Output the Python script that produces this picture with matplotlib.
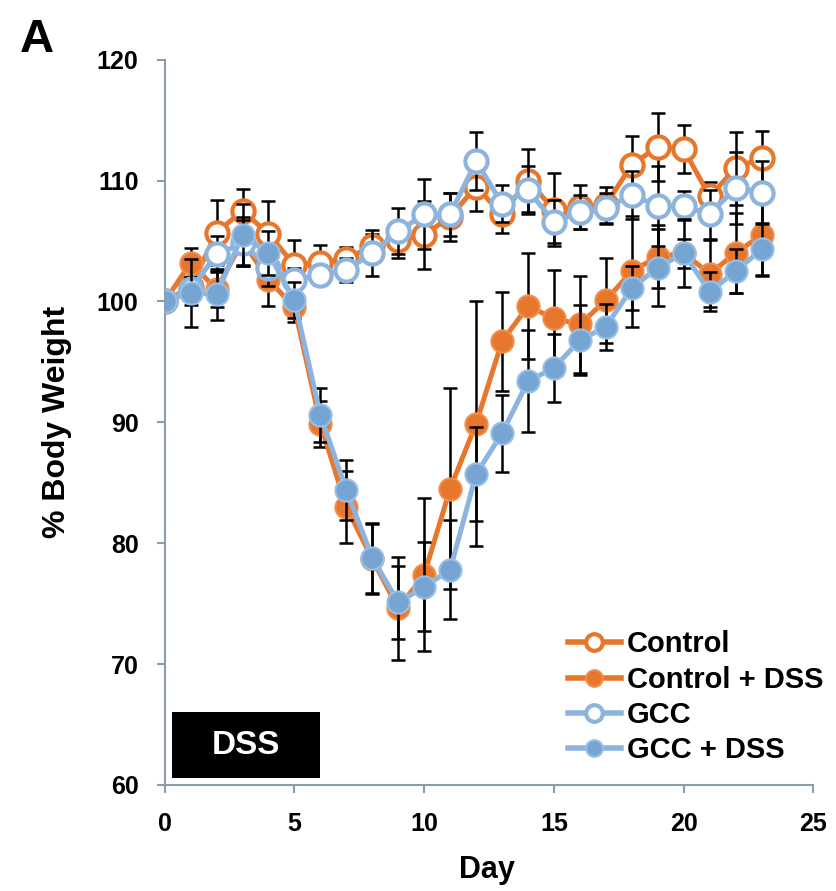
import numpy as np
import matplotlib.pyplot as plt
from matplotlib.patches import Rectangle

# body weight (% of day 0)
days = list(range(24))
control = [100, 101.2, 105.7, 107.5, 105.6, 103.0, 103.2, 103.5, 104.6, 105.1, 105.5, 107.0,
           109.5, 107.2, 110.0, 107.6, 107.8, 108.0, 111.3, 112.8, 112.6, 108.7, 111.0, 111.9]
control_err = [0, 1.5, 2.7, 1.8, 2.7, 2.1, 1.5, 1.0, 1.0, 1.5, 2.8, 2.0,
               2.0, 1.5, 2.6, 3.0, 1.8, 1.5, 2.4, 2.8, 2.0, 1.2, 3.0, 2.2]
control_dss = [100, 103.2, 101.0, 105.0, 101.8, 99.5, 89.9, 83.0, 78.7, 74.6, 77.4, 84.5,
               89.9, 96.7, 99.6, 98.6, 98.1, 100.1, 102.5, 103.7, 104.0, 102.3, 104.0, 105.5]
control_dss_err = [0, 1.2, 1.5, 2.0, 2.2, 1.2, 1.9, 3.0, 2.9, 4.3, 6.3, 8.3,
                   10.1, 4.1, 4.4, 4.0, 4.0, 3.5, 4.6, 2.6, 1.2, 2.8, 3.3, 3.3]
gcc = [100, 101.0, 103.9, 104.8, 102.8, 101.8, 102.2, 102.6, 104.0, 105.8, 107.2, 107.2,
       111.6, 108.1, 109.2, 106.6, 107.4, 107.7, 108.8, 107.9, 107.9, 107.2, 109.4, 109.0]
gcc_err = [0, 1.0, 1.5, 1.9, 1.5, 1.0, 0.8, 1.0, 1.9, 1.9, 2.9, 1.8,
           2.4, 1.5, 2.0, 1.8, 1.4, 1.3, 2.0, 3.3, 1.2, 2.0, 3.0, 2.6]
gcc_dss = [100, 100.7, 100.6, 105.5, 104.0, 100.1, 90.6, 84.4, 78.8, 75.1, 76.4, 77.8,
           85.7, 89.1, 93.4, 94.5, 96.8, 97.9, 101.1, 102.8, 104.0, 100.8, 102.5, 104.3]
gcc_dss_err = [0, 2.8, 2.1, 2.6, 1.8, 1.5, 2.2, 2.5, 2.9, 3.0, 3.7, 4.1,
               3.9, 3.2, 4.2, 2.8, 2.9, 1.9, 1.8, 3.2, 2.8, 1.6, 1.8, 2.2]

ORANGE = "#E8772E"
BLUE = "#8DB4DC"
BLUE_FILL = "#76A5D3"
AXIS_GREY = "#8C9DAA"

plt.rcParams["font.family"] = ["Liberation Sans", "DejaVu Sans"]
plt.rcParams["font.weight"] = "bold"

fig = plt.figure(figsize=(8.36, 8.91), dpi=100)
ax = fig.add_axes([0.197, 0.119, 0.776, 0.814])

series = [
    ("Control", control, control_err, ORANGE, "white", ORANGE, 3.0),
    ("Control + DSS", control_dss, control_dss_err, ORANGE, ORANGE, "#F08F4C", 1.5),
    ("GCC", gcc, gcc_err, BLUE, "white", BLUE, 3.0),
    ("GCC + DSS", gcc_dss, gcc_dss_err, BLUE, BLUE_FILL, "#98BFE6", 1.5),
]

for i, (name, vals, err, col, face, edge, mew) in enumerate(series):
    ax.errorbar(days, vals, yerr=err, fmt="none", ecolor="black", elinewidth=1.8,
                capsize=4.7, capthick=1.8, zorder=2 + i * 2)
    ax.plot(days, vals, color=col, lw=3.6, marker="o", ms=16, mfc=face, mec=edge,
            mew=mew, label=name, zorder=3 + i * 2)

ax.add_patch(Rectangle((0.27, 60.6), 5.73, 5.4, facecolor="black", edgecolor="none", zorder=10))
ax.text(3.13, 63.3, "DSS", color="white", fontsize=24, fontweight="bold",
        ha="center", va="center", zorder=11)

ax.set_xlim(0, 25)
ax.set_ylim(60, 120)
ax.set_xticks([0, 5, 10, 15, 20, 25])
ax.set_yticks([60, 70, 80, 90, 100, 110, 120])
ax.tick_params(labelsize=18, width=1.5, length=5.8, color=AXIS_GREY, direction="out")
ax.tick_params(axis="x", pad=14)
ax.tick_params(axis="y", pad=13)
for lab in ax.get_xticklabels() + ax.get_yticklabels():
    lab.set_fontweight("bold")
for side in ["top", "right"]:
    ax.spines[side].set_visible(False)
for side in ["left", "bottom"]:
    ax.spines[side].set_color(AXIS_GREY)
    ax.spines[side].set_linewidth(1.5)

ax.set_xlabel("Day", fontsize=22, fontweight="bold")
ax.set_ylabel("% Body Weight", fontsize=23, fontweight="bold")
ax.xaxis.set_label_coords(0.497, -0.097)
ax.yaxis.set_label_coords(-0.143, 0.5)

leg = ax.legend(loc="upper left", bbox_to_anchor=(0.622, 0.213), frameon=False,
                prop={"size": 21, "weight": "bold"}, handlelength=1.8,
                handletextpad=0.2, labelspacing=0.25, borderpad=0, borderaxespad=0)
for h in leg.legend_handles:
    h.set_markersize(12)
    h.set_linewidth(4)

fig.text(0.024, 0.955, "A", fontsize=34, fontweight="bold", ha="left", va="center")

fig.savefig("out.png", dpi=100)
